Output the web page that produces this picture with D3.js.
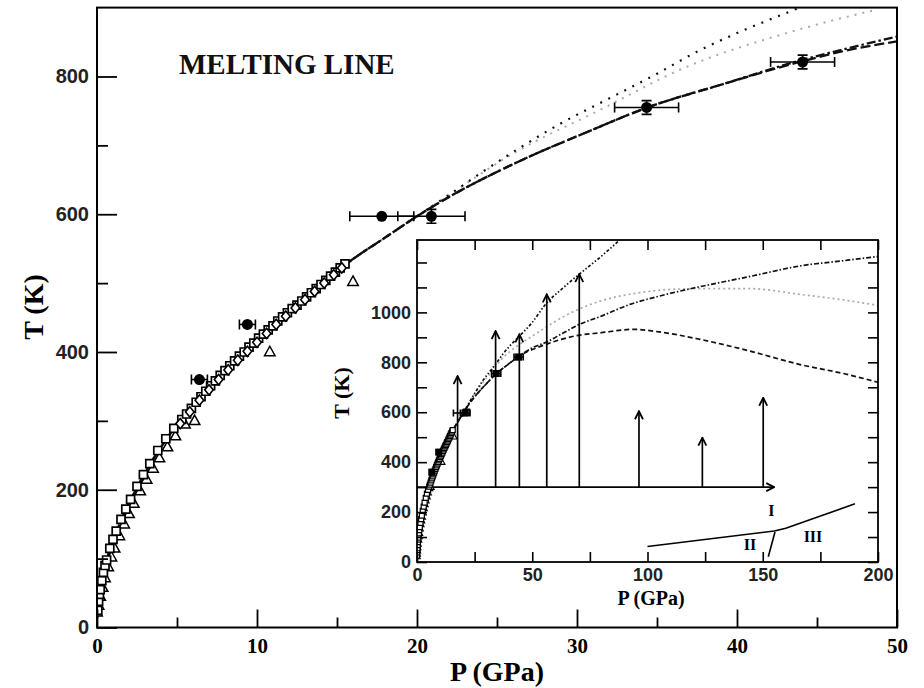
<!DOCTYPE html>
<html>
<head>
<meta charset="utf-8">
<script src="https://cdn.jsdelivr.net/npm/d3@7"></script>
<style>
body{margin:0;background:#fff;}
svg{display:block;}
</style>
</head>
<body>
<script>
// values

// common part of the melting curves (P in GPa, T in K)
var baseP = [0, 0.25, 0.5, 1, 1.5, 2, 2.5, 3, 3.5, 4, 4.5, 5, 6, 7, 8, 9, 10, 11, 12, 13, 14, 15, 16, 18, 20];
var baseT = [14, 60, 88, 126, 155, 180, 203, 224, 244, 262, 279, 295, 323, 349, 373, 396, 418, 439, 459, 479, 500, 518, 535, 566, 597];

// black dotted (steep)
var dotP = [22, 24, 26.4, 29, 32, 35, 37.5, 40, 43.7, 50, 56, 63, 70, 80, 88, 95];
var dotT = [628, 660, 696, 732, 768, 804, 836, 863, 898, 960, 1035, 1095, 1150, 1225, 1290, 1345];
// grey dotted
var greyP = [22, 26, 31.4, 36.85, 43.1, 48.7, 55, 65, 79.4, 96.7, 110, 122.8, 144.4, 166.2, 185, 200];
var greyT = [628, 688, 751, 814, 863, 897, 935, 990, 1045, 1079, 1092, 1095, 1095, 1072, 1050, 1028];
// dash-dot
var dashDotP = [22, 26.4, 30.6, 34.4, 39, 43.9, 47.3, 50, 56, 63, 70, 79.4, 92.4, 105, 122.8, 145, 166.2, 185, 200];
var dashDotT = [625, 677, 719, 755, 788, 823, 843, 858, 880, 915, 950, 983, 1032, 1065, 1103, 1145, 1186, 1207, 1224];
// dashed
var dashP = [22, 26.4, 30.6, 34.4, 39, 43.9, 47.3, 50, 56, 63, 70, 79.4, 93.8, 105, 122.8, 144.4, 166.2, 185, 200];
var dashT = [625, 677, 719, 755, 788, 821, 840, 851, 872, 893, 908, 918, 932, 922, 892, 845, 791, 755, 720];

// open squares
var sqP = [0.05,0.1,0.15,0.2,0.3,0.4,0.5,0.6,0.8,1.0,1.2,1.5,1.8,2.1,2.5,2.9,3.3,3.8,4.3,4.8,
  5.3,5.6,5.9,6.2,6.5,6.8,7.1,7.4,7.7,8.0,8.3,8.6,8.9,9.2,9.5,9.8,10.1,10.4,10.7,11.0,
  11.3,11.6,11.9,12.2,12.5,12.8,13.1,13.4,13.7,14.0,14.3,14.6,14.9,15.2,15.5];
var sqT = [25,38,48,55,68,80,90,98,115,128,140,157,172,186,205,222,238,257,274,289,
  302,310,318,327,335,343,351,358,366,373,380,387,394,400,407,413,420,426,432,438,
  445,451,457,463,468,474,480,486,492,498,504,510,516,522,528];
// open triangles
var triP = [0, 0.1, 0.2, 0.35, 0.5, 0.7, 0.9, 1.1, 1.4, 1.7, 2.0, 2.3, 2.7, 3.1, 3.5, 3.9, 4.4, 4.9, 5.5, 6.1, 10.8, 16.0];
var triT = [22, 32, 45, 58, 72, 88, 102, 115, 133, 150, 165, 180, 198, 215, 231, 246, 262, 278, 295, 300, 400, 502];
// open diamonds
var diaP = [5.2,5.8,6.4,7.0,7.6,8.2,8.8,9.4,10.0,10.6,11.2,11.8,12.4,13.0,13.6,14.2,14.8,15.3];
var diaT = [296,313,330,345,360,374,388,401,414,427,440,452,464,476,488,500,512,522];
// filled circles with error bars
var fcP = [6.4, 9.4, 17.8, 20.9, 34.35, 44.1];
var fcT = [360, 440, 597, 597, 755, 821];
var fcPerr = [0.5, 0.5, 2, 2.1, 2, 2];
var fcTerr = [0, 0, 0, 10, 10, 10];

// inset: vertical arrows starting at 300 K, and the 300 K isotherm
var arrowP = [17.6, 34.1, 44.4, 56.3, 70.4, 96.3, 123.8, 150.2];
var arrowT = [745, 925, 912, 1072, 1153, 604, 498, 658];
var isoT = 300, isoEndP = 155;
var insetSqP = [21.5], insetSqT = [600];
// inset: phase lines and labels
var phaseP = [100, 155, 160, 190];
var phaseT = [62, 124, 135, 233];
var phase2P = [155.3, 152.4];
var phase2T = [120, 21];
var phaseLabels = ['I', 'II', 'III'];
var phaseLabP = [153.7, 144.5, 171.8];
var phaseLabT = [205, 72, 104];

var mainXTicks = [0, 10, 20, 30, 40, 50];
var mainYTicks = [0, 200, 400, 600, 800];
var insetXLabels = [0, 50, 100, 150, 200];
var insetYLabels = [0, 200, 400, 600, 800, 1000];

var width = 924, height = 688;
var serif = '"Liberation Serif", "Times New Roman", serif';
var sans = '"Liberation Sans", Arial, sans-serif';

var svg = d3.select('body').append('svg')
  .attr('width', width).attr('height', height);

var x = d3.scaleLinear().domain([0, 50]).range([97, 897]);
var y = d3.scaleLinear().domain([0, 900]).range([627.5, 7.6]);

var xi = d3.scaleLinear().domain([0, 200]).range([417, 878]);
var yi = d3.scaleLinear().domain([0, 1290]).range([562, 240]);

var defs = svg.append('defs');
defs.append('clipPath').attr('id', 'clipMain').append('rect')
  .attr('x', 97).attr('y', 7.6).attr('width', 800).attr('height', 620);
defs.append('clipPath').attr('id', 'clipIn').append('rect')
  .attr('x', 417).attr('y', 240).attr('width', 461).attr('height', 322);
defs.append('marker').attr('id', 'arr')
  .attr('viewBox', '0 0 10 10').attr('refX', 9).attr('refY', 5)
  .attr('markerWidth', 10).attr('markerHeight', 10).attr('orient', 'auto')
  .attr('markerUnits', 'userSpaceOnUse')
  .append('path').attr('d', 'M1,1 L9,5 L1,9')
  .attr('fill', 'none').attr('stroke', 'black').attr('stroke-width', 1.8);

function join(p1, t1, p2, t2) {
  return p1.map(function (p, i) { return [p, t1[i]]; })
    .concat(p2.map(function (p, i) { return [p, t2[i]]; }));
}

var curves = [
  {pts: join(baseP, baseT, greyP, greyT), color: '#aaa', w: 2, dash: [2, 6], dashIn: [2, 3]},
  {pts: join(baseP, baseT, dashP, dashT), color: '#111', w: 2.3, dash: [10, 4], dashIn: [5, 3]},
  {pts: join(baseP, baseT, dashDotP, dashDotT), color: '#111', w: 2.3, dash: [9, 3, 2.5, 3], dashIn: [5, 2, 1.5, 2]},
  {pts: join(baseP, baseT, dotP, dotT), color: '#111', w: 2.2, dash: [2, 7], dashIn: [3, 2, 1.5, 2, 1.5, 2]}
];

function shapePath(shape, h) {
  if (shape == 'sq') return 'M' + (-h) + ',' + (-h) + 'h' + (2 * h) + 'v' + (2 * h) + 'h' + (-2 * h) + 'Z';
  if (shape == 'tri') return 'M0,' + (-h * 1.15) + 'L' + (h * 1.05) + ',' + (h * 0.75) + 'L' + (-h * 1.05) + ',' + (h * 0.75) + 'Z';
  return 'M0,' + (-h * 1.2) + 'L' + h + ',0L0,' + (h * 1.2) + 'L' + (-h) + ',0Z';
}

function drawMarkers(g, xs, ys, P, T, shape, h, sw) {
  g.selectAll(null).data(d3.range(P.length)).enter().append('path')
    .attr('transform', function (i) { return 'translate(' + xs(P[i]) + ',' + ys(T[i]) + ')'; })
    .attr('d', shapePath(shape, h))
    .attr('fill', 'white').attr('stroke', 'black').attr('stroke-width', sw);
}

function drawErr(g, xs, ys, cap, filled) {
  var idx = d3.range(fcP.length);
  var eb = g.selectAll(null).data(idx).enter().append('g')
    .attr('stroke', 'black').attr('stroke-width', 1.6);
  eb.append('line')
    .attr('x1', function (i) { return xs(fcP[i] - fcPerr[i]); })
    .attr('x2', function (i) { return xs(fcP[i] + fcPerr[i]); })
    .attr('y1', function (i) { return ys(fcT[i]); })
    .attr('y2', function (i) { return ys(fcT[i]); });
  eb.append('path').attr('d', function (i) {
    var yy = ys(fcT[i]);
    return 'M' + xs(fcP[i] - fcPerr[i]) + ',' + (yy - cap) + 'v' + (2 * cap) +
      'M' + xs(fcP[i] + fcPerr[i]) + ',' + (yy - cap) + 'v' + (2 * cap);
  });
  eb.filter(function (i) { return fcTerr[i] > 0; }).append('path').attr('d', function (i) {
    var xx = xs(fcP[i]);
    var y1 = ys(fcT[i] + fcTerr[i]), y2 = ys(fcT[i] - fcTerr[i]);
    return 'M' + xx + ',' + y1 + 'V' + y2 + 'M' + (xx - cap) + ',' + y1 + 'h' + (2 * cap) +
      'M' + (xx - cap) + ',' + y2 + 'h' + (2 * cap);
  });
  filled(eb);
}

// ---------- main plot ----------
var main = svg.append('g');
var line = d3.line().curve(d3.curveMonotoneX)
  .x(function (d) { return x(d[0]); }).y(function (d) { return y(d[1]); });

var mc = main.append('g').attr('clip-path', 'url(#clipMain)');
curves.forEach(function (c) {
  mc.append('path').attr('d', line(c.pts.filter(function (d) { return d[0] <= 52; })))
    .attr('fill', 'none').attr('stroke', c.color).attr('stroke-width', c.w)
    .attr('stroke-dasharray', c.dash.join(','));
});

drawMarkers(mc, x, y, triP, triT, 'tri', 5, 1.5);
drawMarkers(mc, x, y, sqP, sqT, 'sq', 4, 1.7);
drawMarkers(mc, x, y, diaP, diaT, 'dia', 4.3, 1.6);
drawErr(mc, x, y, 5, function (eb) {
  eb.append('circle').attr('cx', function (i) { return x(fcP[i]); })
    .attr('cy', function (i) { return y(fcT[i]); })
    .attr('r', 5.5).attr('fill', 'black').attr('stroke', 'none');
});

// axes
var gx = main.append('g').attr('transform', 'translate(0,627.5)')
  .call(d3.axisBottom(x).tickValues(mainXTicks).tickSizeInner(-18).tickSizeOuter(0).tickPadding(11));
gx.append('g').call(d3.axisBottom(x).tickValues([5, 15, 25, 35, 45]).tickSizeInner(-10).tickSizeOuter(0).tickFormat(''));
var gy = main.append('g').attr('transform', 'translate(97,0)')
  .call(d3.axisLeft(y).tickValues(mainYTicks).tickSizeInner(-20).tickSizeOuter(0).tickPadding(8));
gy.append('g').call(d3.axisLeft(y).tickValues([100, 300, 500, 700]).tickSizeInner(-11).tickSizeOuter(0).tickFormat(''));
[gx, gy].forEach(function (g) {
  g.selectAll('.domain').remove();
  g.selectAll('line').attr('stroke', 'black').attr('stroke-width', 1.8);
});
gx.selectAll('text').attr('font-family', serif).attr('font-weight', 'bold')
  .attr('font-size', 21).attr('fill', 'black');
gy.selectAll('text').attr('font-family', sans).attr('font-weight', 'bold')
  .attr('font-size', 20).attr('fill', '#222');

main.append('rect').attr('x', 97).attr('y', 7.6).attr('width', 800).attr('height', 619.9)
  .attr('fill', 'none').attr('stroke', 'black').attr('stroke-width', 2);

main.append('text').attr('x', 179).attr('y', 74).text('MELTING LINE')
  .attr('font-family', serif).attr('font-weight', 'bold').attr('font-size', 29).attr('fill', '#111');
main.append('text').attr('x', 497).attr('y', 681).attr('text-anchor', 'middle').text('P (GPa)')
  .attr('font-family', serif).attr('font-weight', 'bold').attr('font-size', 28);
main.append('text').attr('transform', 'translate(43,307) rotate(-90)')
  .attr('text-anchor', 'middle').text('T (K)')
  .attr('font-family', serif).attr('font-weight', 'bold').attr('font-size', 28);

// ---------- inset ----------
var ins = svg.append('g');
ins.append('rect').attr('x', 417).attr('y', 240).attr('width', 461).attr('height', 322)
  .attr('fill', 'white');
var ic = ins.append('g').attr('clip-path', 'url(#clipIn)');
var lineIn = d3.line().curve(d3.curveMonotoneX)
  .x(function (d) { return xi(d[0]); }).y(function (d) { return yi(d[1]); });

curves.forEach(function (c) {
  ic.append('path').attr('d', lineIn(c.pts))
    .attr('fill', 'none').attr('stroke', c.color).attr('stroke-width', 1.7)
    .attr('stroke-dasharray', c.dashIn.join(','));
});

// isotherm and arrows
ic.append('line').attr('x1', xi(0)).attr('x2', xi(isoEndP))
  .attr('y1', yi(isoT)).attr('y2', yi(isoT))
  .attr('stroke', 'black').attr('stroke-width', 1.7).attr('marker-end', 'url(#arr)');
ic.selectAll(null).data(d3.range(arrowP.length)).enter().append('line')
  .attr('x1', function (i) { return xi(arrowP[i]); })
  .attr('x2', function (i) { return xi(arrowP[i]); })
  .attr('y1', yi(isoT))
  .attr('y2', function (i) { return yi(arrowT[i]); })
  .attr('stroke', 'black').attr('stroke-width', 1.7).attr('marker-end', 'url(#arr)');

drawMarkers(ic, xi, yi, triP, triT, 'tri', 3, 1.1);
drawMarkers(ic, xi, yi, sqP, sqT, 'sq', 2.5, 1.2);
drawMarkers(ic, xi, yi, insetSqP, insetSqT, 'sq', 3, 1.3);
drawErr(ic, xi, yi, 3.5, function (eb) {
  eb.filter(function (i) { return i != 2; }).append('rect')
    .attr('x', function (i) { return xi(fcP[i]) - 3.5; })
    .attr('y', function (i) { return yi(fcT[i]) - 3.5; })
    .attr('width', 7).attr('height', 7).attr('fill', 'black').attr('stroke', 'none');
});

// phase lines
var phLine = d3.line().x(function (d) { return xi(d[0]); }).y(function (d) { return yi(d[1]); });
ic.append('path').attr('d', phLine(phaseP.map(function (p, i) { return [p, phaseT[i]]; })))
  .attr('fill', 'none').attr('stroke', 'black').attr('stroke-width', 1.6);
ic.append('path').attr('d', phLine(phase2P.map(function (p, i) { return [p, phase2T[i]]; })))
  .attr('fill', 'none').attr('stroke', 'black').attr('stroke-width', 1.6);
ic.selectAll(null).data(phaseLabels).enter().append('text')
  .attr('x', function (d, i) { return xi(phaseLabP[i]); })
  .attr('y', function (d, i) { return yi(phaseLabT[i]); })
  .attr('text-anchor', 'middle').attr('dy', '0.35em')
  .attr('font-family', serif).attr('font-weight', 'bold').attr('font-size', 16)
  .text(function (d) { return d; });

// inset axes: ticks inward on all four sides
function insetTicks(axis, vals, pos, labels) {
  var g = ins.append('g').attr('transform', pos)
    .call(axis.tickValues(vals).tickSizeInner(-10).tickSizeOuter(0)
      .tickPadding(6)
      .tickFormat(function (d) { return labels && labels.indexOf(d) >= 0 ? d : ''; }));
  g.selectAll('.domain').remove();
  g.selectAll('line').attr('stroke', 'black').attr('stroke-width', 1.6);
  g.selectAll('text').attr('font-family', sans).attr('font-weight', 'bold')
    .attr('font-size', 18).attr('fill', '#222');
  return g;
}
var xiTicks = d3.range(0, 201, 25), yiTicks = d3.range(0, 1201, 100);
insetTicks(d3.axisBottom(xi), xiTicks, 'translate(0,562)', insetXLabels);
insetTicks(d3.axisTop(xi), xiTicks, 'translate(0,240)', null);
insetTicks(d3.axisLeft(yi), yiTicks, 'translate(417,0)', insetYLabels);
insetTicks(d3.axisRight(yi), yiTicks, 'translate(878,0)', null);

ins.append('rect').attr('x', 417).attr('y', 240).attr('width', 461).attr('height', 322)
  .attr('fill', 'none').attr('stroke', 'black').attr('stroke-width', 1.8);

ins.append('text').attr('x', 651).attr('y', 605).attr('text-anchor', 'middle').text('P (GPa)')
  .attr('font-family', serif).attr('font-weight', 'bold').attr('font-size', 20);
ins.append('text').attr('transform', 'translate(349,393) rotate(-90)')
  .attr('text-anchor', 'middle').text('T (K)')
  .attr('font-family', serif).attr('font-weight', 'bold').attr('font-size', 22);
</script>
</body>
</html>
